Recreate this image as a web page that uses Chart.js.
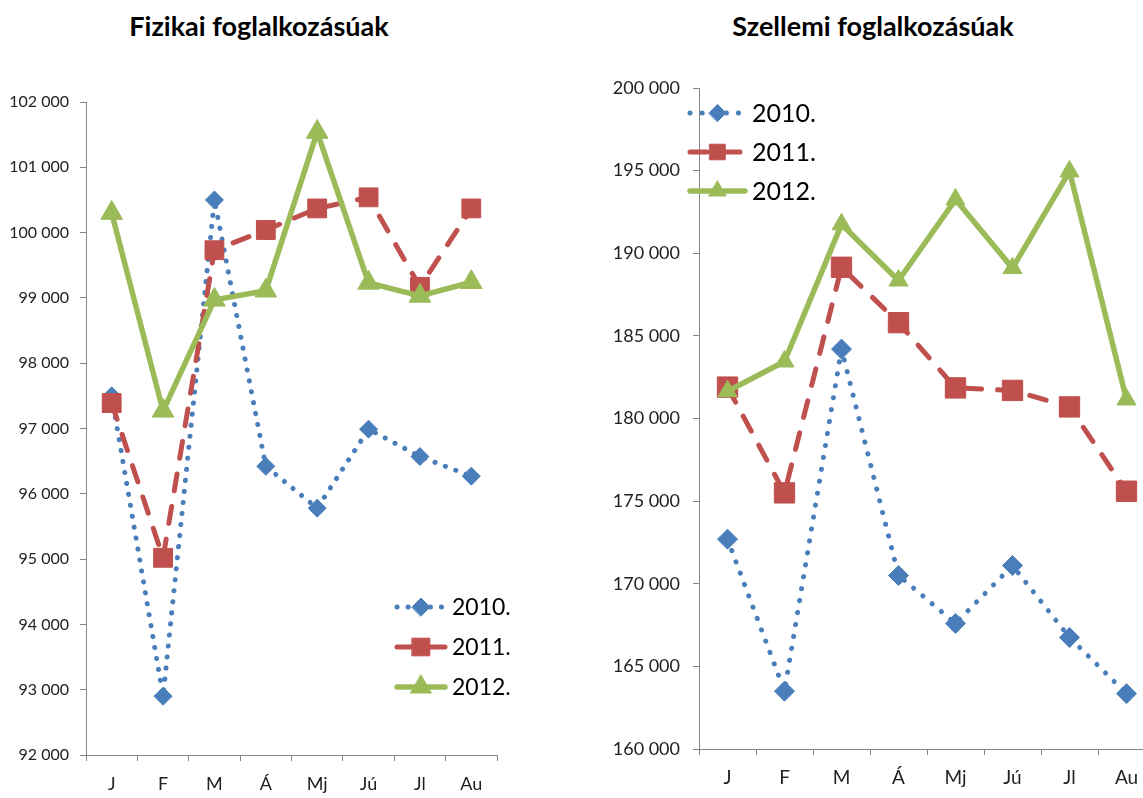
<!DOCTYPE html>
<html><head><meta charset="utf-8">
<script src="https://cdn.jsdelivr.net/npm/chart.js@4"></script>
<style>
html,body{margin:0;padding:0;background:#fff;overflow:hidden;width:1143px;height:798px;position:relative;}
.t{position:absolute;font-family:Lato,sans-serif;font-weight:bold;font-size:27px;color:#000;white-space:nowrap;transform:translateX(-50%);line-height:1;}
#c1{position:absolute;left:0;top:0;}
#c2{position:absolute;left:580px;top:0;}
</style></head><body>
<div class="t" style="left:259px;top:12px">Fizikai foglalkozásúak</div>
<div class="t" style="left:873px;top:12px">Szellemi foglalkozásúak</div>
<canvas id="c1" width="560" height="798"></canvas>
<canvas id="c2" width="600" height="798"></canvas>
<script>
const categories = ['J','F','M','Á','Mj','Jú','Jl','Au'];
const seriesLabels = ['2010.','2011.','2012.'];
const fizikai2010 = [97500, 92900, 100500, 96420, 95780, 96990, 96570, 96270];
const fizikai2011 = [97390, 95020, 99730, 100040, 100370, 100540, 99170, 100370];
const fizikai2012 = [100300, 97270, 98970, 99110, 101540, 99230, 99030, 99240];
const szellemi2010 = [172700, 163500, 184200, 170500, 167600, 171100, 166750, 163350];
const szellemi2011 = [181900, 175500, 189150, 185800, 181850, 181700, 180700, 175600];
const szellemi2012 = [181650, 183450, 191750, 188350, 193250, 189100, 194950, 181150];
const fizikaiTicks = {min: 92000, max: 102000, step: 1000};
const szellemiTicks = {min: 160000, max: 200000, step: 5000};

const BLUE = '#4A7EBB', RED = '#C0504D', GREEN = '#9BBB59';

function fmt(v){ return String(v).replace(/\B(?=(\d{3})+(?!\d))/g, '\u00a0'); }

const legendPlugin = {
  id: 'inlineLegend',
  afterDraw(chart, args, o) {
    const ctx = chart.ctx;
    chart.data.datasets.forEach((ds, i) => {
      const y = o.y0 + i * o.dy;
      ctx.save();
      ctx.strokeStyle = ds.borderColor;
      ctx.lineWidth = ds.borderWidth;
      ctx.lineCap = ds.borderCapStyle || 'butt';
      ctx.setLineDash(ds.borderDash || []);
      ctx.beginPath(); ctx.moveTo(o.x0, y); ctx.lineTo(o.x1, y); ctx.stroke();
      ctx.setLineDash([]);
      ctx.fillStyle = ds.pointBackgroundColor;
      ctx.strokeStyle = ds.pointBorderColor;
      ctx.lineWidth = 1;
      Chart.helpers.drawPoint(ctx, {pointStyle: ds.pointStyle, rotation: 0, borderWidth: 1, radius: o.r[i]}, (o.x0 + o.x1) / 2, y);
      ctx.fillStyle = '#000';
      ctx.font = o.font;
      ctx.textBaseline = 'middle';
      ctx.textAlign = 'left';
      ctx.fillText(ds.label, o.tx, y + 1);
      ctx.restore();
    });
  }
};

function makeChart(id, data, ticks, cfg) {
  const [d0, d1, d2] = data;
  const mk = (label, values, color, style, r, width, dash, cap, order) => ({
    label, data: values, borderColor: color, backgroundColor: color,
    pointBackgroundColor: color, pointBorderColor: color, pointBorderWidth: 1,
    pointStyle: style, pointRadius: r, pointHoverRadius: r,
    borderWidth: width, borderDash: dash, borderCapStyle: cap, borderJoinStyle: 'round',
    tension: 0, fill: false, order
  });
  return new Chart(document.getElementById(id), {
    type: 'line',
    data: {
      labels: categories,
      datasets: [
        mk(seriesLabels[0], d0, BLUE, 'rectRot', cfg.r[0], 5, [0.1, cfg.dot], 'round', 2),
        mk(seriesLabels[1], d1, RED, 'rect', cfg.r[1], 5, [17, 16], 'round', 1),
        mk(seriesLabels[2], d2, GREEN, 'triangle', cfg.r[2], 5.5, [], 'round', 0)
      ]
    },
    options: {
      responsive: false, animation: false, devicePixelRatio: 1,
      layout: {padding: {left: 0, top: cfg.top, right: cfg.right, bottom: 0}},
      plugins: {legend: {display: false}, tooltip: {enabled: false}, title: {display: false}, inlineLegend: cfg.legend},
      scales: {
        x: {
          offset: true,
          grid: {offset: true, drawOnChartArea: false, tickLength: 6, color: '#868686'},
          border: {color: '#868686', width: 1},
          ticks: {font: {family: 'Lato', size: cfg.xfs}, color: '#222', padding: cfg.xpad, maxRotation: 0, autoSkip: false},
          afterFit(s) { s.height = cfg.xh; }
        },
        y: {
          min: ticks.min, max: ticks.max,
          grid: {drawOnChartArea: false, tickLength: 6, color: '#868686'},
          border: {color: '#868686', width: 1},
          ticks: {stepSize: ticks.step, font: {family: 'Lato', size: cfg.yfs}, color: '#222', padding: cfg.ypad, callback: v => fmt(v)},
          afterFit(s) { s.width = cfg.yw; }
        }
      }
    },
    plugins: [legendPlugin]
  });
}

makeChart('c1', [fizikai2010, fizikai2011, fizikai2012], fizikaiTicks, {
  r: [9, 13.3, 12.5], dot: 11, top: 102, right: 63, xh: 43, yw: 86, xfs: 18, yfs: 16, xpad: 12, ypad: 11,
  legend: {x0: 397, x1: 445, y0: 607, dy: 40, tx: 452, r: [9, 12.5, 12], font: '23px Lato'}
});
makeChart('c2', [szellemi2010, szellemi2011, szellemi2012], szellemiTicks, {
  r: [10, 14.4, 11], dot: 12, top: 88, right: 25, xh: 49, yw: 119, xfs: 19, yfs: 18, xpad: 11, ypad: 13,
  legend: {x0: 110, x1: 165, y0: 113, dy: 39, tx: 172, r: [8.5, 11, 10], font: '25px Lato'}
});
</script>
</body></html>
